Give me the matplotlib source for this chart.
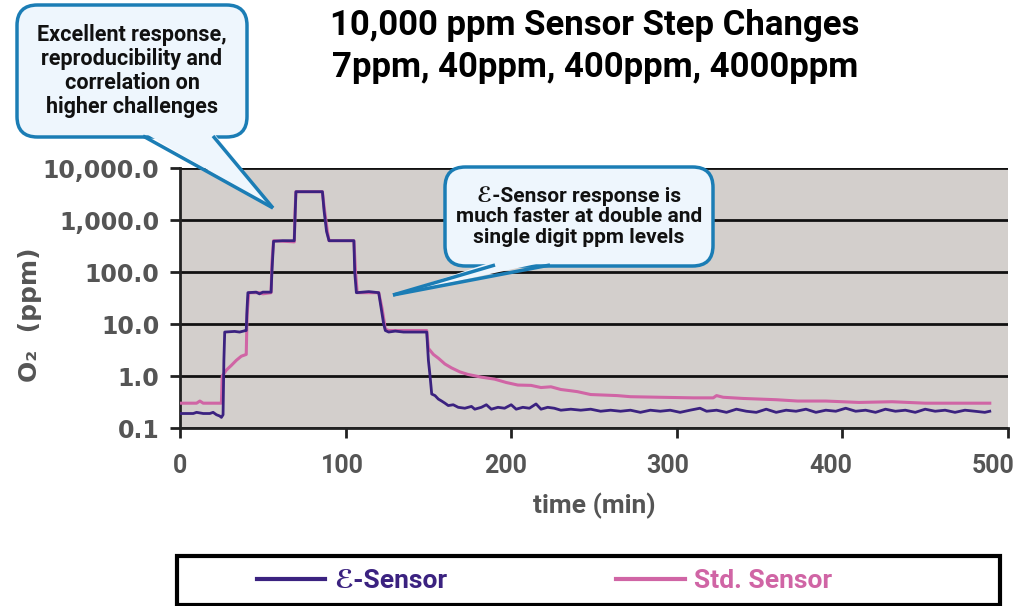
import matplotlib
matplotlib.use('Agg')
import matplotlib.pyplot as plt
import matplotlib.transforms as mtransforms
from matplotlib.patches import FancyBboxPatch, Polygon, Rectangle
from matplotlib.lines import Line2D

plt.rcParams['font.family'] = ['Roboto', 'DejaVu Sans']
plt.rcParams['font.weight'] = 'bold'

# E-Sensor readings (time in min, O2 in ppm)
e_time = [0, 8, 10, 14, 18, 20, 22, 24, 25, 26, 26.5, 27, 33, 36, 39, 40, 40.5, 41,
          46, 48, 50, 55, 55.5, 56.5, 62, 69, 69.5, 70, 86, 87, 88.5, 90, 105, 105.5,
          106.5, 114, 120, 121, 123, 124, 126, 130, 135, 149, 150, 151, 152, 154, 156,
          158, 160, 162, 165, 168, 172, 176, 178, 182, 185, 188, 192, 196, 200, 203,
          207, 211, 215, 218, 222, 226, 230, 236, 242, 248, 254, 260, 266, 272, 278,
          284, 290, 296, 302, 308, 314, 318, 324, 330, 336, 342, 348, 354, 360, 366,
          372, 378, 384, 390, 396, 402, 408, 414, 420, 426, 432, 438, 444, 450, 456,
          462, 468, 474, 480, 486, 489]
e_ppm = [0.19, 0.19, 0.2, 0.19, 0.19, 0.2, 0.18, 0.17, 0.16, 0.18, 2.0, 7.0, 7.2, 7.0,
         7.4, 7.5, 20, 40, 41, 38, 41, 41, 100, 390, 400, 400, 1200, 3500, 3500, 1500,
         600, 400, 400, 100, 40, 42, 40, 25, 10, 7.5, 7.0, 7.3, 7.0, 7.0, 2.0, 1.0,
         0.45, 0.42, 0.36, 0.33, 0.3, 0.27, 0.28, 0.25, 0.24, 0.26, 0.23, 0.25, 0.28,
         0.23, 0.25, 0.24, 0.28, 0.23, 0.25, 0.24, 0.29, 0.23, 0.25, 0.24, 0.22, 0.23,
         0.22, 0.23, 0.21, 0.22, 0.21, 0.22, 0.2, 0.22, 0.21, 0.22, 0.2, 0.22, 0.24,
         0.21, 0.22, 0.2, 0.23, 0.21, 0.2, 0.23, 0.2, 0.22, 0.21, 0.23, 0.2, 0.22, 0.21,
         0.24, 0.21, 0.22, 0.2, 0.23, 0.21, 0.22, 0.2, 0.23, 0.21, 0.22, 0.2, 0.22,
         0.21, 0.2, 0.21]

# Std. Sensor readings
s_time = [0, 10, 12, 14, 24, 25, 25.5, 28, 31, 34, 37, 40, 40.5, 41.5, 48, 50, 55,
          55.5, 56.5, 69, 69.5, 70, 86, 87, 89, 90, 105, 106, 107, 120, 122, 124, 126,
          149, 150, 153, 156, 160, 164, 169, 174, 182, 190, 197, 204, 212, 218, 224,
          230, 236, 240, 248, 256, 264, 272, 290, 310, 322, 324, 328, 340, 360, 373,
          390, 410, 430, 450, 470, 489]
s_ppm = [0.3, 0.3, 0.33, 0.3, 0.3, 0.3, 1.0, 1.3, 1.6, 2.0, 2.4, 2.6, 15, 40, 40, 38,
         40, 150, 400, 380, 1500, 3500, 3500, 1800, 600, 400, 400, 100, 40, 40, 20, 8,
         7.5, 7.5, 3.4, 2.6, 2.2, 1.7, 1.43, 1.2, 1.07, 0.95, 0.87, 0.75, 0.67, 0.66,
         0.6, 0.62, 0.55, 0.52, 0.5, 0.44, 0.43, 0.42, 0.4, 0.39, 0.38, 0.38, 0.42,
         0.39, 0.37, 0.35, 0.33, 0.33, 0.31, 0.32, 0.3, 0.3, 0.3]

y_ticks = [0.1, 1, 10, 100, 1000, 10000]
y_labels = ['0.1', '1.0', '10.0', '100.0', '1,000.0', '10,000.0']
x_ticks = [0, 100, 200, 300, 400, 500]

W, H = 1021, 606
purple = '#3b2280'
pink = '#d065a5'
grey = '#555555'
edge_blue = '#1b7db5'
fill_blue = '#eef6fd'


def fx(px):
    return px / W


def fy(py):
    return 1 - py / H


fig = plt.figure(figsize=(W / 100, H / 100), dpi=100)
ax = fig.add_axes([fx(180), fy(428), fx(1008 - 180), (428 - 168) / H])
ax.set_facecolor('#d3cfcc')

s_line, = ax.plot(s_time, s_ppm, color=pink, lw=2.2, label='Std. Sensor', zorder=3)
e_line, = ax.plot(e_time, e_ppm, color=purple, lw=2.0, label='ℰ-Sensor', zorder=4)

ax.set_yscale('log')
ax.set_ylim(0.1, 10000)
ax.set_xlim(0, 500)
ax.set_yticks(y_ticks)
ax.set_yticklabels(y_labels, fontsize=17, color=grey, fontweight='bold',
                   family=['DejaVu Sans'])
ax.minorticks_off()
ax.set_xticks(x_ticks)
ax.set_xticklabels([str(v) for v in x_ticks], fontsize=18, color=grey, fontweight='bold')
ax.yaxis.grid(True, color='#111111', lw=2.0)
ax.set_axisbelow(True)
for side in ['top', 'right']:
    ax.spines[side].set_visible(False)
for side in ['left', 'bottom']:
    ax.spines[side].set_color('#222222')
    ax.spines[side].set_linewidth(2)
ax.tick_params(axis='both', colors='#222222', width=2, length=7, direction='out')
ax.tick_params(axis='y', labelcolor=grey, pad=8)
ax.tick_params(axis='x', labelcolor=grey, pad=12)
# labels sit slightly left of their ticks in the original
for i, lab in enumerate(ax.get_xticklabels()):
    off = mtransforms.ScaledTranslation(-3 * i / 100, 0, fig.dpi_scale_trans)
    lab.set_transform(lab.get_transform() + off)

ax.set_xlabel('time (min)', fontsize=19, color=grey, fontweight='bold', labelpad=10)
fig.text(fx(30), fy(315), 'O₂  (ppm)', rotation=90, ha='center', va='center',
         fontsize=18, color=grey, fontweight='bold', family=['DejaVu Sans'])

fig.text(fx(595), fy(25), '10,000 ppm Sensor Step Changes', ha='center', va='center',
         fontsize=25, color='black', fontweight='bold')
fig.text(fx(595), fy(68), '7ppm, 40ppm, 400ppm, 4000ppm', ha='center', va='center',
         fontsize=25, color='black', fontweight='bold')


def callout(x0, y0, x1, y1, base_l, base_r, tip, text, size):
    fig.patches.append(FancyBboxPatch((fx(x0), fy(y1)), fx(x1 - x0), (y1 - y0) / H,
                                      boxstyle='round,pad=0,rounding_size=0.02',
                                      mutation_aspect=W / H, transform=fig.transFigure,
                                      facecolor=fill_blue, edgecolor=edge_blue, lw=2.5,
                                      zorder=5))
    # tail: fill reaches into the box to hide the box edge at the joint
    tail = [(fx(base_l), fy(y1 - 5)), (fx(tip[0]), fy(tip[1])), (fx(base_r), fy(y1 - 5))]
    fig.patches.append(Polygon(tail, closed=True, transform=fig.transFigure,
                               facecolor=fill_blue, edgecolor='none', zorder=6))
    for bx in (base_l, base_r):
        fig.lines.append(Line2D([fx(bx), fx(tip[0])], [fy(y1 - 1), fy(tip[1])],
                                transform=fig.transFigure, color=edge_blue, lw=2.5,
                                solid_capstyle='butt', zorder=7))
    fig.text(fx((x0 + x1) / 2), fy((y0 + y1) / 2), text, ha='center', va='center',
             fontsize=size, color='#111111', linespacing=1.1, zorder=8,
             fontweight='bold', family=['Roboto', 'DejaVu Sans'])


callout(17, 5, 247, 137, 143, 213, (273, 208),
        'Excellent response,\nreproducibility and\ncorrelation on\nhigher challenges', 15.5)
callout(445, 167, 713, 266, 495, 550, (393, 295),
        'ℰ-Sensor response is\nmuch faster at double and\nsingle digit ppm levels', 15)

# legend box under the chart
fig.patches.append(Rectangle((fx(177), fy(605)), fx(1000 - 177), 49 / H,
                             transform=fig.transFigure, facecolor='white',
                             edgecolor='black', lw=3, zorder=1))
leg = fig.legend(handles=[e_line, s_line], loc='center left', ncol=2,
                 bbox_to_anchor=(fx(246), fy(581)), frameon=False,
                 fontsize=19, handlelength=2.6, handletextpad=0.35, columnspacing=6.4,
                 borderaxespad=0, labelcolor='linecolor')
for t in leg.get_texts():
    t.set_fontweight('bold')
for h in leg.legend_handles:
    h.set_linewidth(3)

fig.savefig('out.png', dpi=100)
